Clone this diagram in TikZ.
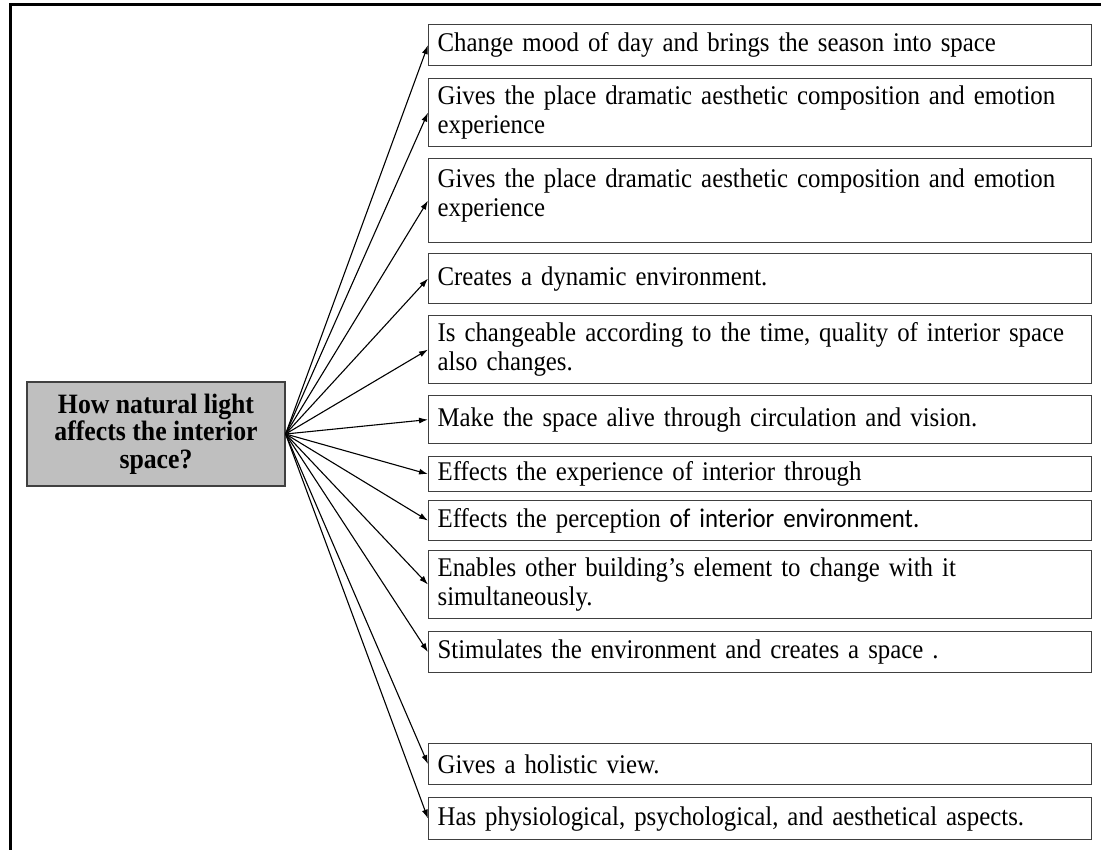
\documentclass[tikz,border=0pt]{standalone}
\usepackage{fontspec}
\setmainfont{Liberation Serif}[FakeStretch=0.92]
\newfontfamily\calibri{Carlito}[FakeStretch=0.92]
\usetikzlibrary{arrows.meta}

\begin{document}
\begin{tikzpicture}[x=1pt,y=-1pt,>={Latex[length=9pt,width=6pt]}]
    \tikzstyle{answer}=[draw=black!75,line width=1.2pt,anchor=north west,text width=645pt,inner xsep=9pt,inner ysep=0pt,align=left,font=\fontsize{27}{29}\selectfont]
    \tikzstyle{question}=[draw=black!75,line width=1.2pt,fill=gray!50,minimum width=258pt,minimum height=104pt,align=center,font=\bfseries\fontsize{28}{27.5}\selectfont]
    \tikzstyle{link}=[->,line width=1.1pt]

    \useasboundingbox (0,0) rectangle (1101,850);
    % outer frame
    \draw[line width=3pt] (1101,5) -- (10,5) -- (10,850);

    \node[question] (Q) at (156,434) {How natural light\\affects the interior\\space?};

    \node[answer,minimum height=41pt] (A1) at (428,24) {Change mood of day and brings the season into space};
    \node[answer,minimum height=68pt] (A2) at (428,78) {Gives the place dramatic aesthetic composition and emotion\\experience};
    \node[answer,minimum height=84pt] (A3) at (428,158) {Gives the place dramatic aesthetic composition and emotion\\experience\rule[-16pt]{0pt}{16pt}};
    \node[answer,minimum height=50pt] (A4) at (428,253) {Creates a dynamic environment.};
    \node[answer,minimum height=68pt] (A5) at (428,315) {Is changeable according to the time, quality of interior space\\also changes.};
    \node[answer,minimum height=48pt] (A6) at (428,395) {Make the space alive through circulation and vision.};
    \node[answer,minimum height=35pt] (A7) at (428,456) {Effects the experience of interior through};
    \node[answer,minimum height=40pt] (A8) at (428,500) {Effects the perception {\calibri of interior environment.}};
    \node[answer,minimum height=68pt] (A9) at (428,550) {Enables other building’s element to change with it\\simultaneously.};
    \node[answer,minimum height=41pt] (A10) at (428,631) {Stimulates the environment and creates a space .};
    \node[answer,minimum height=41pt] (A11) at (428,743) {Gives a holistic view.};
    \node[answer,minimum height=42pt] (A12) at (428,797) {Has physiological, psychological, and aesthetical aspects.};

    % arrows from the question
    \foreach \i in {1,...,12}
        \draw[link] (Q.east) -- (A\i.west);
\end{tikzpicture}
\end{document}
